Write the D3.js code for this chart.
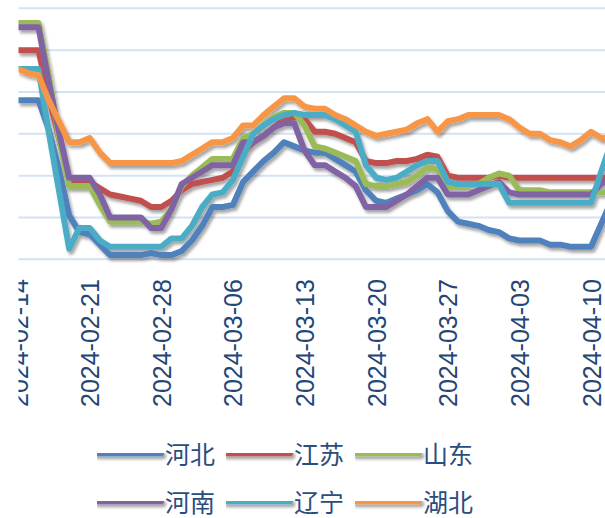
<!DOCTYPE html>
<html>
<head>
<meta charset="utf-8">
<script src="https://cdn.jsdelivr.net/npm/d3@7"></script>
<style>
  body { margin: 0; background: #fff; }
  svg { display: block; }
</style>
</head>
<body>
<div id="chart"></div>
<script>
// --- datos (precio diario por provincia)
const startDate = "2024-02-14";
const nDays = 59;
const tickLabels = ["2024-02-14", "2024-02-21", "2024-02-28", "2024-03-06", "2024-03-13",
                    "2024-03-20", "2024-03-27", "2024-04-03", "2024-04-10"];
const seriesNames = ["河北", "江苏", "山东", "河南", "辽宁", "湖北"];
const colors = ["#4F81BD", "#C0504D", "#9BBB59", "#8064A2", "#4BACC6", "#F79646"];

const hebei = [4.16, 4.16, 4.16, 4.02, 3.83, 3.61, 3.53, 3.52, 3.47, 3.42,
               3.42, 3.42, 3.42, 3.43, 3.42, 3.42, 3.44, 3.49, 3.56, 3.65,
               3.65, 3.66, 3.77, 3.82, 3.87, 3.91, 3.96, 3.94, 3.92, 3.91,
               3.91, 3.88, 3.85, 3.82, 3.73, 3.68, 3.67, 3.69, 3.71, 3.73,
               3.76, 3.72, 3.63, 3.58, 3.57, 3.56, 3.54, 3.53, 3.50, 3.49,
               3.49, 3.49, 3.47, 3.47, 3.46, 3.46, 3.46, 3.57, 3.68];
const jiangsu = [4.40, 4.40, 4.40, 4.18, 3.98, 3.78, 3.77, 3.77, 3.74, 3.71,
                 3.70, 3.69, 3.68, 3.65, 3.65, 3.68, 3.73, 3.76, 3.77, 3.78,
                 3.79, 3.82, 3.91, 3.96, 3.99, 4.03, 4.07, 4.08, 4.07, 4.01,
                 4.01, 4.00, 3.98, 3.96, 3.87, 3.86, 3.86, 3.87, 3.87, 3.88,
                 3.90, 3.89, 3.80, 3.79, 3.79, 3.79, 3.79, 3.80, 3.79, 3.79,
                 3.79, 3.79, 3.79, 3.79, 3.79, 3.79, 3.79, 3.79, 3.79];
const shandong = [4.53, 4.53, 4.53, 4.28, 3.98, 3.75, 3.75, 3.75, 3.66, 3.58,
                  3.58, 3.58, 3.58, 3.57, 3.58, 3.64, 3.75, 3.80, 3.84, 3.88,
                  3.88, 3.88, 3.98, 4.00, 4.04, 4.08, 4.10, 4.10, 4.04, 3.94,
                  3.93, 3.91, 3.89, 3.87, 3.76, 3.75, 3.75, 3.76, 3.77, 3.80,
                  3.84, 3.83, 3.75, 3.75, 3.75, 3.76, 3.79, 3.81, 3.80, 3.73,
                  3.73, 3.73, 3.72, 3.72, 3.72, 3.72, 3.72, 3.72, 3.72];
const henan = [4.51, 4.51, 4.51, 4.25, 4.01, 3.79, 3.79, 3.79, 3.71, 3.60,
               3.60, 3.60, 3.60, 3.55, 3.55, 3.64, 3.76, 3.79, 3.82, 3.85,
               3.85, 3.85, 3.96, 3.96, 3.99, 4.03, 4.05, 4.05, 3.92, 3.85,
               3.85, 3.82, 3.79, 3.75, 3.65, 3.65, 3.65, 3.68, 3.71, 3.75,
               3.79, 3.79, 3.71, 3.71, 3.71, 3.73, 3.75, 3.77, 3.72, 3.71,
               3.71, 3.71, 3.71, 3.71, 3.71, 3.71, 3.71, 3.76, 3.79];
const liaoning = [4.31, 4.31, 4.31, 4.01, 3.73, 3.45, 3.55, 3.55, 3.49, 3.46,
                  3.46, 3.46, 3.46, 3.46, 3.46, 3.50, 3.50, 3.56, 3.65, 3.71,
                  3.72, 3.78, 3.89, 4.00, 4.04, 4.07, 4.09, 4.10, 4.09, 4.09,
                  4.09, 4.07, 4.04, 4.01, 3.85, 3.79, 3.78, 3.79, 3.82, 3.85,
                  3.87, 3.87, 3.77, 3.76, 3.76, 3.76, 3.76, 3.76, 3.67, 3.67,
                  3.67, 3.67, 3.67, 3.67, 3.67, 3.67, 3.67, 3.82, 3.96];
const hubei = [4.31, 4.29, 4.28, 4.16, 4.06, 3.96, 3.96, 3.98, 3.91, 3.86,
               3.86, 3.86, 3.86, 3.86, 3.86, 3.86, 3.87, 3.90, 3.93, 3.96,
               3.96, 3.98, 4.04, 4.04, 4.09, 4.13, 4.17, 4.17, 4.13, 4.12,
               4.12, 4.09, 4.07, 4.04, 4.01, 3.99, 4.00, 4.01, 4.02, 4.05,
               4.07, 4.01, 4.06, 4.07, 4.09, 4.09, 4.09, 4.09, 4.07, 4.03,
               4.00, 4.00, 3.97, 3.96, 3.94, 3.97, 4.01, 3.98, 3.98];
const yTicks = [3.4, 3.6, 3.8, 4.0, 4.2, 4.4, 4.6];

const seriesValues = [hebei, jiangsu, shandong, henan, liaoning, hubei];

// --- grafica
const width = 605, height = 518;
const parse = d3.utcParse("%Y-%m-%d");
const dates = d3.utcDay.range(parse(startDate), d3.utcDay.offset(parse(startDate), nDays));

const x = d3.scaleUtc()
  .domain([parse("2024-02-14"), parse("2024-04-10")])
  .range([18, 591]);
const y = d3.scaleLinear()
  .domain([3.4, 4.6])
  .range([259.3, 8.3]);

const svg = d3.select("#chart")
  .append("svg")
  .attr("width", width)
  .attr("height", height);

const defs = svg.append("defs");
defs.append("clipPath").attr("id", "recorte")
  .append("rect")
  .attr("x", 18.5).attr("y", 0)
  .attr("width", width - 18.5).attr("height", 430);
const sombra = defs.append("filter").attr("id", "sombra")
  .attr("filterUnits", "userSpaceOnUse")
  .attr("x", 0).attr("y", 0).attr("width", width).attr("height", height);
sombra.append("feDropShadow")
  .attr("dx", 2).attr("dy", 3)
  .attr("stdDeviation", 1.8)
  .attr("flood-color", "#000")
  .attr("flood-opacity", 0.35);

const grafica = svg.append("g").attr("clip-path", "url(#recorte)");

grafica.append("g")
  .selectAll("line")
  .data(yTicks)
  .enter()
  .append("line")
  .attr("x1", 18).attr("x2", width)
  .attr("y1", (d) => y(d)).attr("y2", (d) => y(d))
  .attr("stroke", "#D5E2F3")
  .attr("stroke-width", 2);

const xAxis = d3.axisBottom(x)
  .tickValues(tickLabels.map(parse))
  .tickSize(0)
  .tickFormat(d3.utcFormat("%Y-%m-%d"));

const axisG = grafica.append("g")
  .attr("transform", "translate(0,259)")
  .call(xAxis);
axisG.select(".domain").remove();
axisG.selectAll("text")
  .attr("transform", "translate(0,148) rotate(-90)")
  .attr("x", 0)
  .attr("y", 0)
  .attr("dy", "0.36em")
  .attr("text-anchor", "start")
  .attr("font-family", "'Liberation Sans', Arial, sans-serif")
  .attr("font-size", 25)
  .attr("fill", "#244677");

const line = d3.line()
  .x((d, i) => x(dates[i]))
  .y((d) => y(d));

grafica.append("g")
  .attr("filter", "url(#sombra)")
  .selectAll("path")
  .data(seriesValues)
  .enter()
  .append("path")
  .attr("d", (vals) => line(vals))
  .attr("fill", "none")
  .attr("stroke", (d, i) => colors[i])
  .attr("stroke-width", 6)
  .attr("stroke-linejoin", "round");

// --- leyenda
const leyenda = svg.append("g");
const items = leyenda.selectAll("g")
  .data(seriesNames)
  .enter()
  .append("g")
  .attr("transform", (d, i) => `translate(${97 + (i % 3) * 129},${453 + Math.floor(i / 3) * 48})`);
items.append("line")
  .attr("x1", 0).attr("x2", 64)
  .attr("stroke", (d, i) => colors[i])
  .attr("stroke-width", 6.5)
  .attr("stroke-linecap", "round")
  .attr("filter", "url(#sombra)");
items.append("text")
  .attr("x", 68)
  .attr("dominant-baseline", "central")
  .attr("font-family", "'Noto Sans CJK SC', sans-serif")
  .attr("font-size", 25)
  .attr("fill", "#2B4C7E")
  .text((d) => d);
</script>
</body>
</html>
